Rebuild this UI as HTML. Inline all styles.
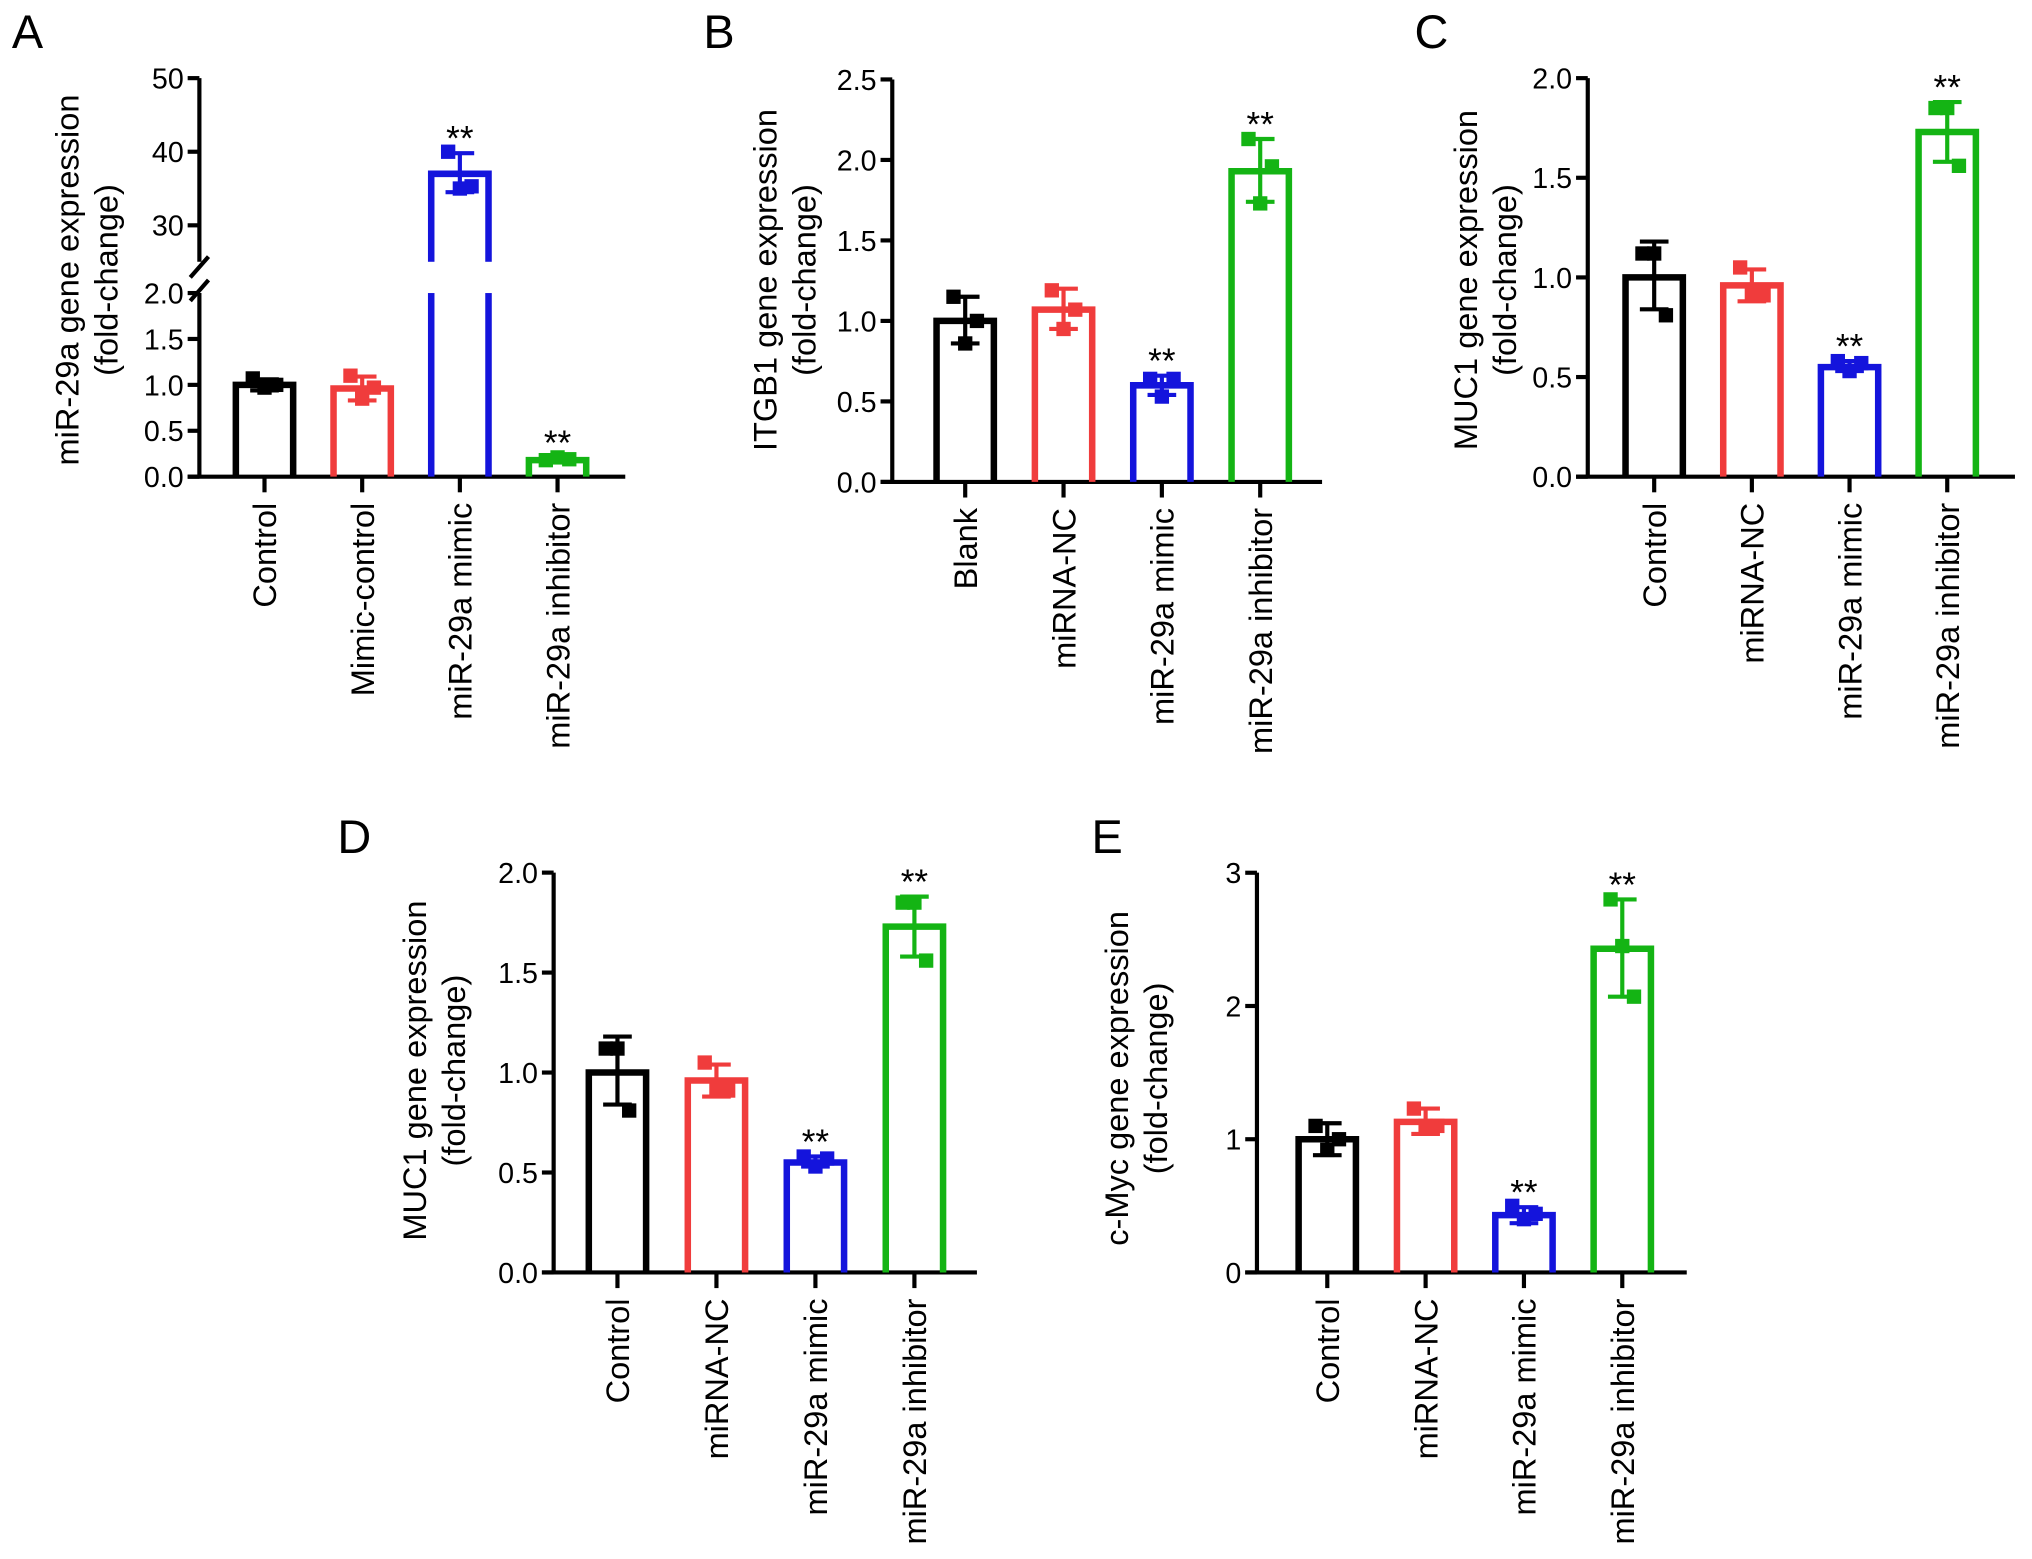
<!DOCTYPE html>
<html><head><meta charset="utf-8"><style>
html,body{margin:0;padding:0;background:#fff;}
svg{display:block;font-family:"Liberation Sans",Arial,sans-serif;}
</style></head><body>
<svg id="fig" width="2032" height="1559" viewBox="0 0 1560 1197" xmlns="http://www.w3.org/2000/svg"></svg>
<script>
const colors = ["#000000","#f03c3c","#1414dc","#14b414"];
// Panel A
const catsA = ["Control","Mimic-control","miR-29a mimic","miR-29a inhibitor"];
const meansA = [1.0, 0.96, 37, 0.18];
const errLoA = [0.94, 0.83, 34.5, 0.16];
const errHiA = [1.06, 1.09, 39.8, 0.21];
const ptsA = [[1.07,0.97,1.0],[1.1,0.85,0.97],[40,35,35.3],[0.18,0.21,0.19]];
const sigA = [false,false,true,true];
// Panel B
const catsB = ["Blank","miRNA-NC","miR-29a mimic","miR-29a inhibitor"];
const meansB = [1.0, 1.07, 0.6, 1.93];
const errLoB = [0.86, 0.95, 0.54, 1.74];
const errHiB = [1.15, 1.2, 0.66, 2.13];
const ptsB = [[1.15,0.86,1.0],[1.19,0.95,1.07],[0.64,0.53,0.64],[2.13,1.73,1.96]];
const sigB = [false,false,true,true];
const ticksB = [0,0.5,1.0,1.5,2.0,2.5];
// Panel C / D
const catsC = ["Control","miRNA-NC","miR-29a mimic","miR-29a inhibitor"];
const meansC = [1.0, 0.96, 0.55, 1.73];
const errLoC = [0.84, 0.88, 0.53, 1.58];
const errHiC = [1.18, 1.04, 0.58, 1.88];
const ptsC = [[1.12,1.12,0.81],[1.05,0.91,0.91],[0.58,0.53,0.57],[1.85,1.85,1.56]];
const sigC = [false,false,true,true];
const ticksC = [0,0.5,1.0,1.5,2.0];
// Panel E
const catsE = ["Control","miRNA-NC","miR-29a mimic","miR-29a inhibitor"];
const meansE = [1.0, 1.13, 0.43, 2.43];
const errLoE = [0.88, 1.04, 0.37, 2.07];
const errHiE = [1.12, 1.23, 0.49, 2.8];
const ptsE = [[1.1,0.92,1.0],[1.23,1.1,1.1],[0.5,0.4,0.44],[2.8,2.45,2.07]];
const sigE = [false,false,true,true];
const ticksE = [0,1,2,3];

const NS="http://www.w3.org/2000/svg";
const svg=document.getElementById('fig');
function mk(tag,attrs,parent){const e=document.createElementNS(NS,tag);for(const k in attrs)e.setAttribute(k,attrs[k]);(parent||svg).appendChild(e);return e;}
function txt(s,attrs,parent){const e=mk('text',attrs,parent);e.textContent=s;return e;}

function panel(o){
  const g=mk('g',{});
  
  
  const L=txt(o.letter,{x:o.lx,y:o.ly,'font-size':36},g);
  
  
  const y=o.yfn;
  const ax=mk('g',{stroke:'#000','stroke-width':3.2,fill:'none'},g);
  
  
  if(o.broken){
    mk('line',{x1:o.ax,y1:o.top,x2:o.ax,y2:o.breakTop},ax);
    mk('line',{x1:o.ax,y1:o.breakBot,x2:o.ax,y2:o.base},ax);
    mk('line',{x1:o.ax-7,y1:o.breakTop+12,x2:o.ax+7,y2:o.breakTop-4},ax);
    mk('line',{x1:o.ax-7,y1:o.breakBot+6,x2:o.ax+7,y2:o.breakBot-10},ax);
  } else mk('line',{x1:o.ax,y1:o.top,x2:o.ax,y2:o.base},ax);
  mk('line',{x1:o.ax-9,y1:o.base,x2:o.xend,y2:o.base},ax);
  o.ticks.forEach(t=>{
    const ty=y(t);
    mk('line',{x1:o.ax-9,y1:ty,x2:o.ax,y2:ty},ax);
    const tl=txt(o.fmt(t),{x:o.ax-12,y:ty+8,'font-size':22,'text-anchor':'end'},g);
    
    
  });
  const tt=txt('',{transform:`translate(${o.tx},${o.ty}) rotate(-90)`,'font-size':25,'text-anchor':'middle'},g);
  
  
  const s1=mk('tspan',{x:0,y:0},tt);s1.textContent=o.title;
  const s2=mk('tspan',{x:0,y:30},tt);s2.textContent='(fold-change)';
  o.cats.forEach((c,i)=>{
    const cx=o.x0+i*o.step, col=colors[i];
    mk('line',{x1:cx,y1:o.base,x2:cx,y2:o.base+12,stroke:'#000','stroke-width':3.2},g);
    const cl=txt(c,{transform:`translate(${cx+9},${o.base+20}) rotate(-90)`,'font-size':25,'text-anchor':'end'},g);
    
    
    const bg=mk('g',{stroke:col,fill:'none'},g);
    
    
    const top=y(o.means[i]);
    mk('path',{d:`M${cx-22},${o.base} V${top} H${cx+22} V${o.base}`,'stroke-width':5},bg);
    if(o.broken){mk('rect',{x:cx-27,y:o.breakTop,width:54,height:o.breakBot-o.breakTop,fill:'#fff',stroke:'none'},bg);}
    const eh=y(o.hi[i]), el=y(o.lo[i]);
    mk('line',{x1:cx,y1:eh,x2:cx,y2:el,'stroke-width':3.2},bg);
    mk('line',{x1:cx-11,y1:eh,x2:cx+11,y2:eh,'stroke-width':3.2},bg);
    mk('line',{x1:cx-11,y1:el,x2:cx+11,y2:el,'stroke-width':3.2},bg);
    o.pts[i].forEach((p,j)=>{
      const px=cx+(j-1)*9;
      const r=mk('rect',{x:px-5.5,y:y(p)-5.5,width:11,height:11,fill:col,stroke:'none'},bg);
      
      
    });
    if(o.sig[i]){
      const st=txt('**',{x:cx,y:eh-2,'font-size':27,'text-anchor':'middle'},g);
      
      
    }
  });
}

const yA=v=> v<=2 ? 366-v*70.5 : 173-(v-30)*5.65;
panel({letter:'A',lx:9,ly:37,ax:153,top:60,base:366,xend:480,broken:true,breakTop:201,breakBot:225,
  yfn:yA,ticks:[0,0.5,1.0,1.5,2.0,30,40,50],fmt:t=>t>=30?String(t):t.toFixed(1),
  tx:60,ty:215,title:'miR-29a gene expression',cats:catsA,x0:203,step:75,
  means:meansA,lo:errLoA,hi:errHiA,pts:ptsA,sig:sigA});
panel({letter:'B',lx:540,ly:37,ax:685,top:61,base:370,xend:1015,
  yfn:v=>370-v*123.6,ticks:ticksB,fmt:t=>t.toFixed(1),
  tx:596,ty:215,title:'ITGB1 gene expression',cats:catsB,x0:741,step:75.5,
  means:meansB,lo:errLoB,hi:errHiB,pts:ptsB,sig:sigB});
panel({letter:'C',lx:1086,ly:37,ax:1219,top:60,base:366,xend:1547,
  yfn:v=>366-v*153,ticks:ticksC,fmt:t=>t.toFixed(1),
  tx:1134,ty:215,title:'MUC1 gene expression',cats:catsC,x0:1270,step:75,
  means:meansC,lo:errLoC,hi:errHiC,pts:ptsC,sig:sigC});
panel({letter:'D',lx:259,ly:655,ax:425,top:670,base:977,xend:750,
  yfn:v=>977-v*153.5,ticks:ticksC,fmt:t=>t.toFixed(1),
  tx:327,ty:822,title:'MUC1 gene expression',cats:catsC,x0:474,step:76,
  means:meansC,lo:errLoC,hi:errHiC,pts:ptsC,sig:sigC});
panel({letter:'E',lx:838,ly:655,ax:965,top:670,base:977,xend:1295,
  yfn:v=>977-v*102.3,ticks:ticksE,fmt:t=>String(t),
  tx:866,ty:828,title:'c-Myc gene expression',cats:catsE,x0:1019,step:75.5,
  means:meansE,lo:errLoE,hi:errHiE,pts:ptsE,sig:sigE});
</script>
</body></html>
